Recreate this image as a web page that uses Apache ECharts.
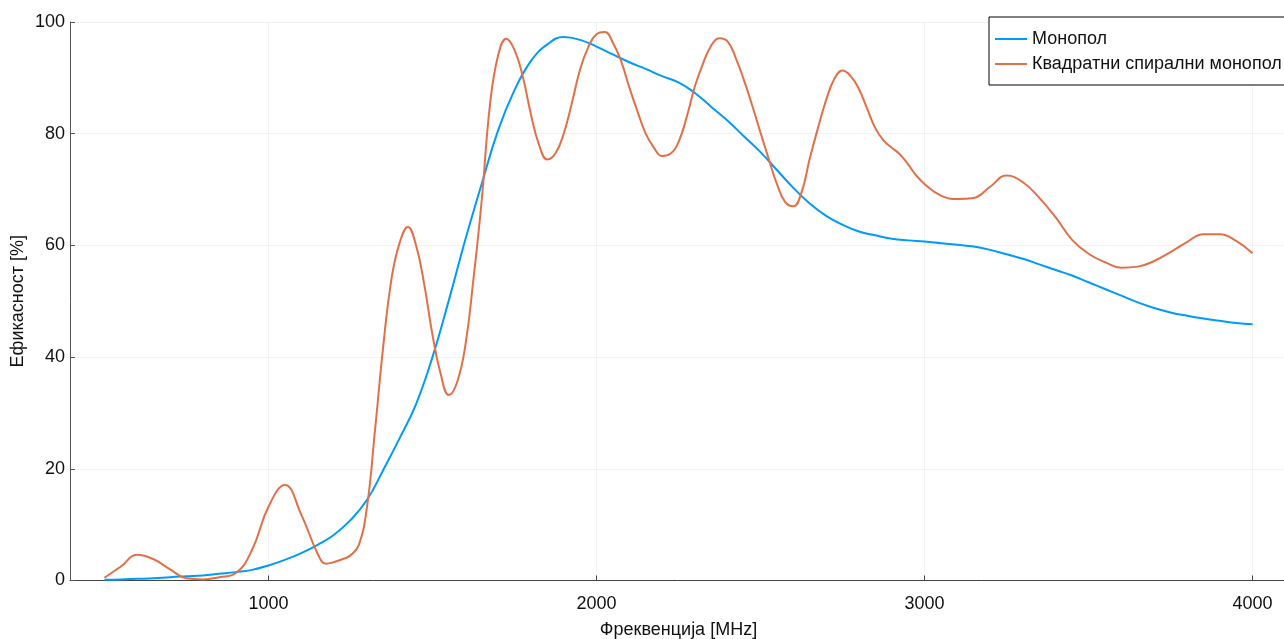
<!DOCTYPE html>
<html>
<head>
<meta charset="utf-8">
<script src="https://cdn.jsdelivr.net/npm/echarts@6/dist/echarts.min.js"></script>
<style>html,body{margin:0;padding:0;background:#fff;}#c{width:1284px;height:639px;}</style>
</head>
<body>
<div id="c"></div>
<script>
var seriesNames = ['Монопол', 'Квадратни спирални монопол'];
var xTicks = [1000, 2000, 3000, 4000];
var yTicks = [0, 20, 40, 60, 80, 100];

var freqMono = [500,550,600,650,700,750,800,850,900,950,1000,1050,1100,1150,1200,1250,1300,1350,1400,1450,1500,1550,1600,1650,1700,1750,1800,1850,1900,1950,2000,2050,2100,2150,2200,2250,2300,2350,2400,2450,2500,2550,2600,2650,2700,2750,2800,2850,2900,2950,3000,3050,3100,3150,3200,3250,3300,3350,3400,3450,3500,3550,3600,3650,3700,3750,3800,3850,3900,3950,4000];
var effMono = [0.15,0.2,0.3,0.4,0.6,0.75,0.9,1.2,1.5,1.9,2.7,3.7,4.9,6.4,8.2,10.8,14.4,19.8,25.5,31.6,40.0,50.2,61.0,71.0,80.6,87.8,93.0,96.0,97.3,96.8,95.6,94.2,92.8,91.6,90.3,89.2,87.3,84.8,82.3,79.5,76.7,73.5,70.3,67.5,65.3,63.7,62.5,61.8,61.2,60.9,60.7,60.4,60.1,59.8,59.2,58.4,57.6,56.6,55.6,54.6,53.4,52.2,51.0,49.8,48.8,48.0,47.4,46.9,46.5,46.1,45.9];

var freqSpiral = [500,550,600,650,700,750,800,850,900,950,1000,1050,1100,1150,1175,1200,1225,1250,1275,1300,1325,1350,1375,1400,1425,1450,1475,1500,1525,1550,1575,1600,1625,1650,1675,1700,1725,1750,1775,1800,1825,1850,1875,1900,1925,1950,1975,2000,2025,2050,2075,2100,2125,2150,2175,2200,2225,2250,2275,2300,2325,2350,2375,2400,2425,2450,2475,2500,2525,2550,2575,2600,2625,2650,2675,2700,2725,2750,2775,2800,2825,2850,2875,2900,2925,2950,2975,3000,3050,3100,3150,3200,3250,3300,3350,3400,3450,3500,3550,3600,3650,3700,3750,3800,3850,3900,3950,4000];
var effSpiral = [0.5,2.5,4.6,3.8,2.0,0.4,0.2,0.6,1.3,5.5,13.2,17.1,11.8,4.8,3.0,3.3,3.8,4.5,6.3,13.0,27.0,42.0,54.0,60.5,63.3,60.0,53.0,44.0,37.0,33.2,35.5,42.0,54.0,68.0,85.0,94.0,97.0,95.0,90.3,83.5,78.0,75.4,76.5,80.0,85.5,91.5,95.5,97.8,98.2,96.3,93.0,88.3,84.0,80.0,77.5,76.0,76.4,78.5,83.0,88.5,92.6,95.8,97.1,96.5,93.5,89.5,85.0,80.2,75.5,71.0,67.8,67.0,69.5,75.5,81.0,86.0,89.8,91.3,90.3,88.0,84.5,81.0,78.8,77.5,76.3,74.5,72.5,71.0,68.9,68.3,68.5,70.5,72.5,71.3,68.5,65.0,61.0,58.5,57.0,56.0,56.2,57.2,58.8,60.6,62.0,62.0,60.8,58.6];

function pairs(xs, ys) { return xs.map(function (x, i) { return [x, ys[i]]; }); }

var FONT = 'Liberation Sans, Arial, sans-serif';
var chart = echarts.init(document.getElementById('c'), null, {renderer: 'canvas'});
chart.setOption({
  animation: false,
  backgroundColor: '#ffffff',
  textStyle: {fontFamily: FONT},
  grid: {left: 70, right: -3, top: 22, bottom: 58.5, containLabel: false, outerBoundsMode: 'none'},
  legend: {
    orient: 'vertical',
    left: 989, top: 17,
    padding: [13, 8, 12, 6],
    itemGap: 7,
    itemWidth: 32, itemHeight: 2,
    icon: 'rect',
    borderColor: '#000', borderWidth: 1, borderRadius: 0,
    backgroundColor: '#fff',
    textStyle: {fontFamily: FONT, fontSize: 18, color: '#111'},
    data: seriesNames
  },
  xAxis: {
    type: 'value', min: 395, max: 4105,
    name: 'Фреквенција [MHz]', nameLocation: 'middle', nameGap: 41, nameMoveOverlap: false,
    nameTextStyle: {fontFamily: FONT, fontSize: 18, color: '#111'},
    axisLine: {show: true, onZero: false, lineStyle: {color: '#444', width: 1}},
    axisTick: {show: true, inside: true, length: 5, customValues: xTicks, lineStyle: {color: '#444'}},
    axisLabel: {customValues: xTicks, fontFamily: FONT, fontSize: 18, color: '#111', margin: 15,
      formatter: function (v) { return String(v); }},
    splitLine: {show: true, lineStyle: {color: 'rgba(0,0,0,0.05)', width: 1}}
  },
  yAxis: {
    type: 'value', min: 0, max: 100, interval: 20,
    name: 'Ефикасност [%]', nameLocation: 'middle', nameGap: 43, nameRotate: 90, nameMoveOverlap: false,
    nameTextStyle: {fontFamily: FONT, fontSize: 18, color: '#111'},
    axisLine: {show: true, lineStyle: {color: '#555', width: 1}},
    axisTick: {show: true, inside: true, length: 5, lineStyle: {color: '#555'}},
    axisLabel: {fontFamily: FONT, fontSize: 18, color: '#111', margin: 5,
      formatter: function (v) { return String(v); }},
    splitLine: {show: true, lineStyle: {color: 'rgba(0,0,0,0.05)', width: 1}}
  },
  series: [
    {name: seriesNames[0], type: 'line', data: pairs(freqMono, effMono), smooth: 0.45, symbol: 'none',
     lineStyle: {color: '#009AFA', width: 2}, itemStyle: {color: '#009AFA'}},
    {name: seriesNames[1], type: 'line', data: pairs(freqSpiral, effSpiral), smooth: 0.45, symbol: 'none',
     lineStyle: {color: '#E36F47', width: 2}, itemStyle: {color: '#E36F47'}}
  ]
});
</script>
</body>
</html>
